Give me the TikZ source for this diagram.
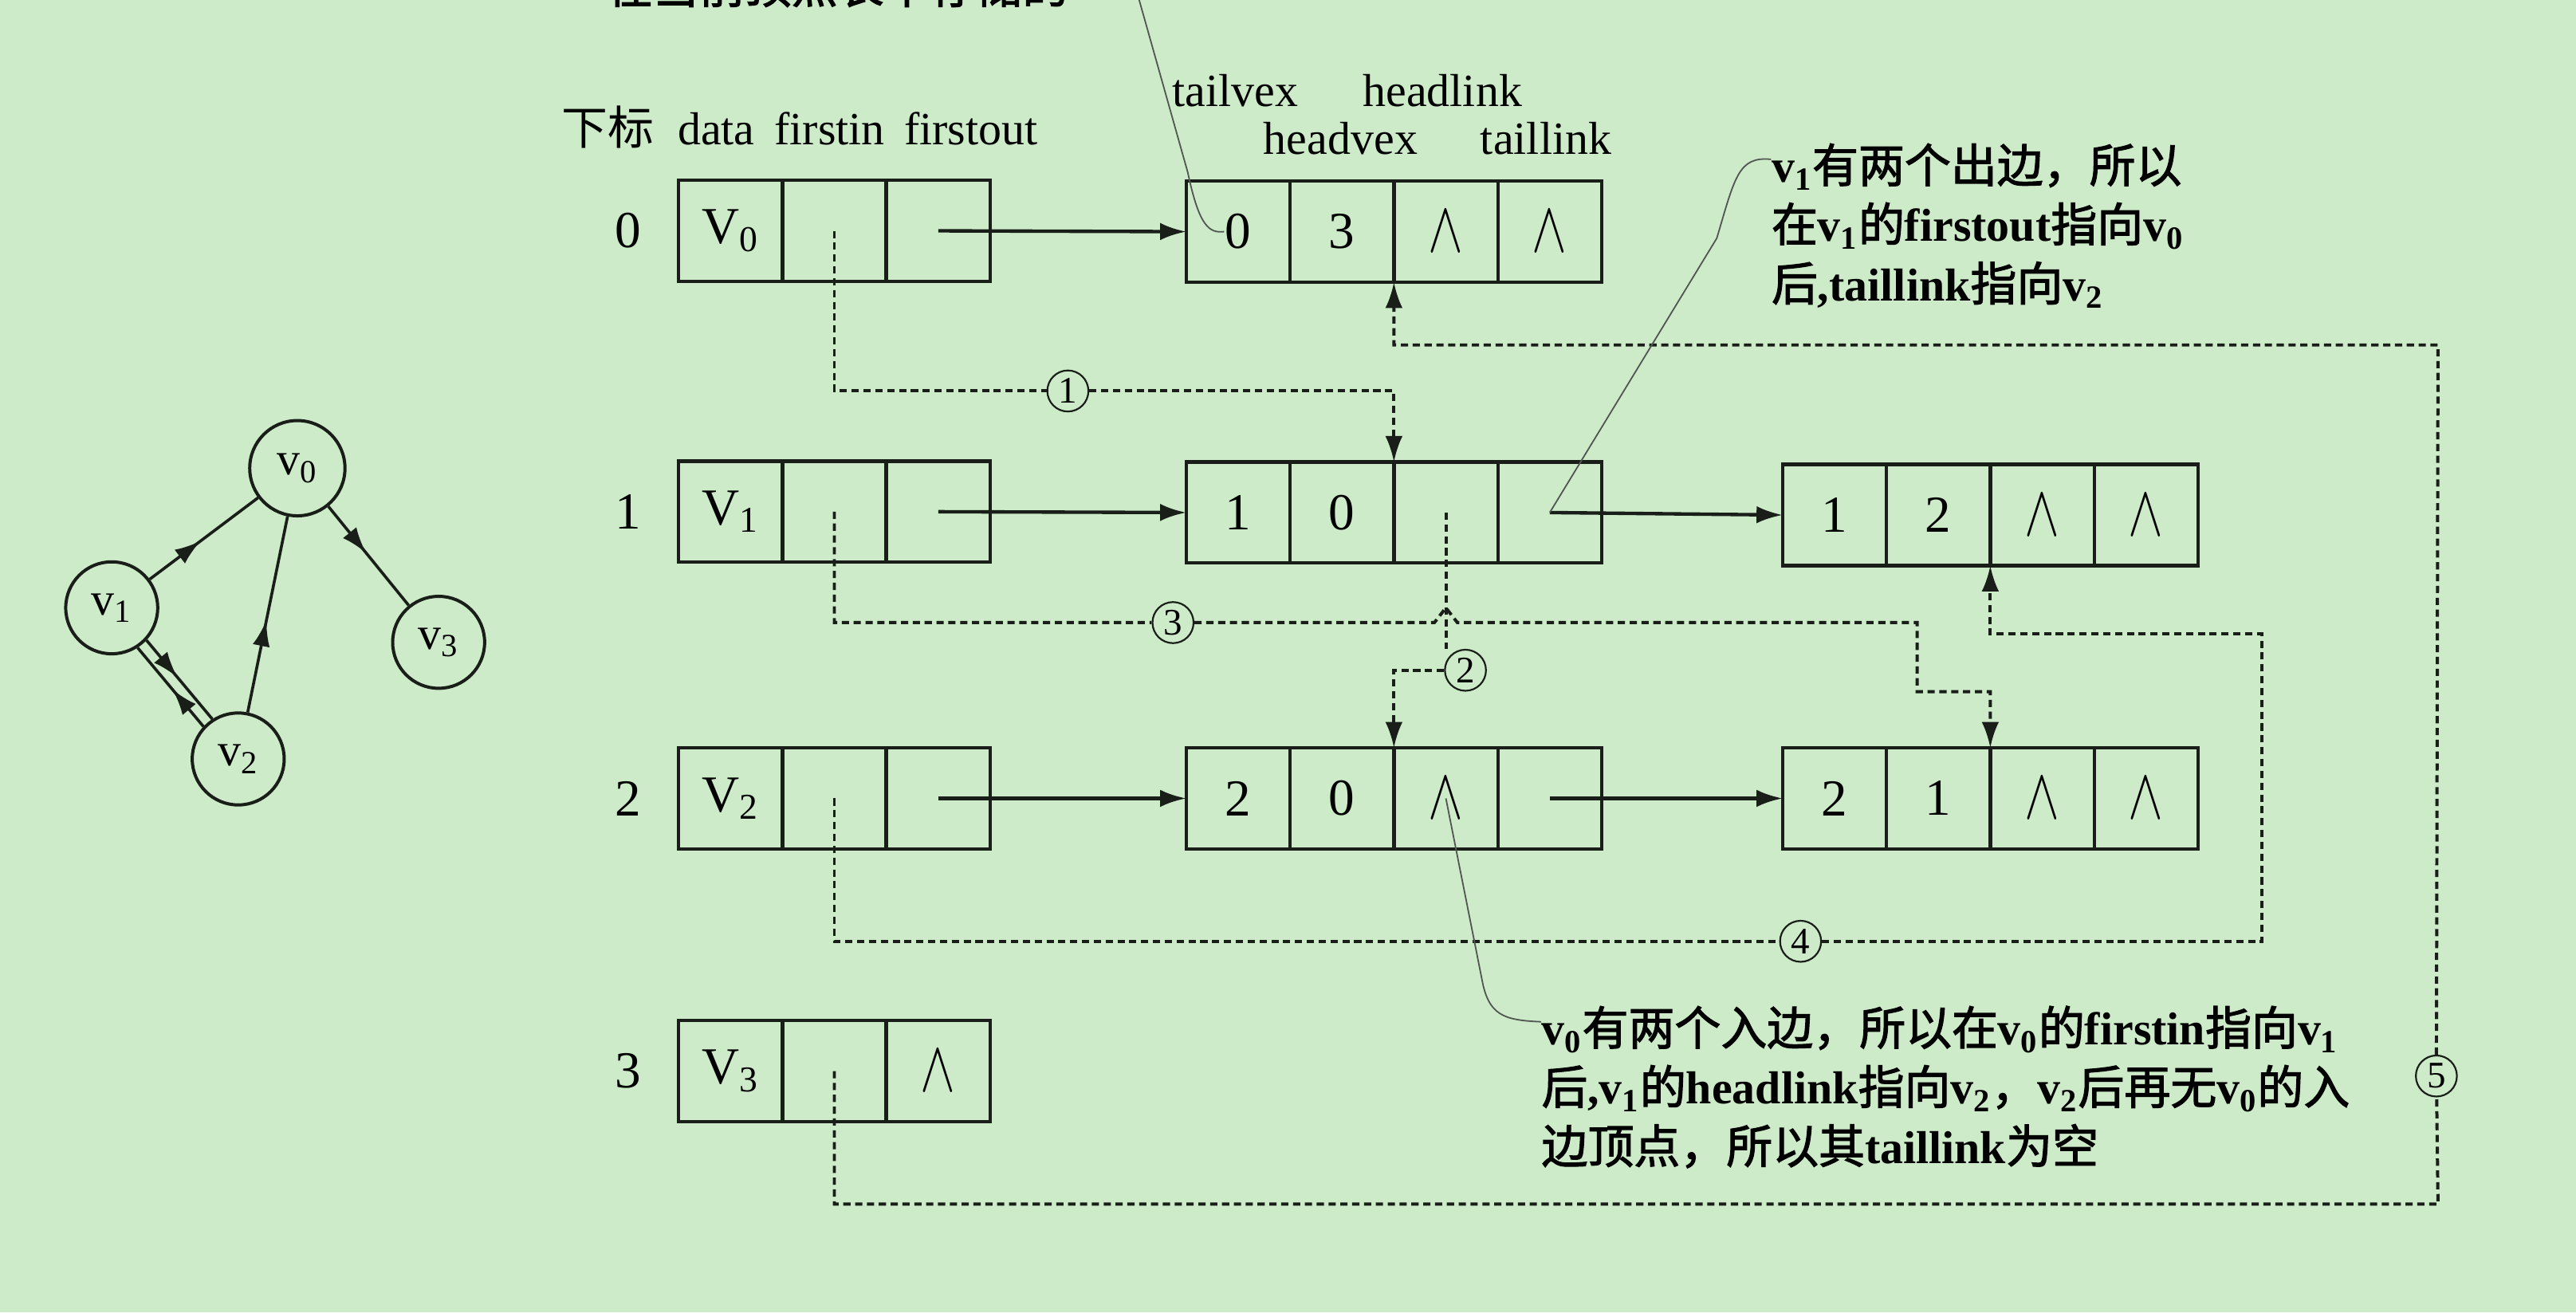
\documentclass[tikz,border=0pt]{standalone}
\usepackage{fontspec}
\usepackage{graphicx}
\setmainfont{Liberation Serif}
\newfontfamily\cjk{Noto Sans CJK SC}[AutoFakeBold=2]
\usetikzlibrary{positioning,arrows.meta,decorations.markings,calc}
\definecolor{bggreen}{RGB}{205,235,200}
\definecolor{ink}{RGB}{25,30,25}
\def\nullp{\scalebox{1.05}[1.45]{$\wedge$}}
\def\vsub#1#2{#1\textsubscript{#2}}
\def\vertexrow#1#2#3#4#5{%
  \node[cell,anchor=west] (#1d) at (#2,#3) {#4};
  \node[cell,right=0pt of #1d] (#1i) {};
  \node[cell,right=0pt of #1i] (#1o) {#5}}
\def\edgerow#1#2#3#4#5#6#7{%
  \node[cell,anchor=west] (#1a) at (#2,#3) {#4};
  \node[cell,right=0pt of #1a] (#1b) {#5};
  \node[cell,right=0pt of #1b] (#1c) {#6};
  \node[cell,right=0pt of #1c] (#1d) {#7}}
\tikzstyle{cell}=[draw=ink,line width=1.2pt,minimum width=1.265cm,minimum height=1.23cm,inner sep=0pt,outer sep=0pt,font=\fontsize{18}{18}\selectfont]
\tikzstyle{idx}=[inner sep=0pt,font=\fontsize{18}{18}\selectfont]
\tikzstyle{head}=[inner sep=0pt,anchor=base,font=\fontsize{16}{16}\selectfont]
\tikzstyle{vtx}=[circle,draw=ink,line width=1.1pt,minimum size=1.12cm,inner sep=0pt,font=\fontsize{16}{16}\selectfont]
\tikzstyle{midarrow}=[postaction={decorate},decoration={markings,mark=at position 0.47 with {\arrow{Latex[length=9pt,width=6pt]}}}]
\tikzstyle{gline}=[draw=ink,line width=1pt,midarrow]
\tikzstyle{link}=[draw=ink,line width=1.2pt,-{Latex[length=9pt,width=6pt]}]
\tikzstyle{ptr}=[draw=ink,line width=1.1pt,dash pattern=on 2.5pt off 1.6pt,-{Latex[length=9pt,width=6pt]}]
\tikzstyle{num}=[circle,draw=ink,line width=0.6pt,fill=bggreen,minimum size=0.5cm,inner sep=0pt,font=\fontsize{13}{13}\selectfont]
\tikzstyle{note}=[align=left,anchor=north west,inner sep=0pt,font=\fontsize{16}{20.5}\selectfont\bfseries]
\tikzstyle{lead}=[draw=ink!75,line width=0.5pt]

\begin{document}
\begin{tikzpicture}[x=0.02cm,y=-0.02cm]
  \useasboundingbox (0,0) rectangle (1568,799);
  \clip (0,0) rectangle (1568,799);
  \fill[bggreen] (0,0) rectangle (1568,799);

  % the graph
  \node[vtx,minimum size=1.16cm] (g0) at (181,285) {\vsub{v}{0}};
  \node[vtx] (g1) at (68,370) {\vsub{v}{1}};
  \node[vtx] (g2) at (145,462) {\vsub{v}{2}};
  \node[vtx] (g3) at (267,391) {\vsub{v}{3}};
  \draw[gline] (g1) -- (g0);
  \draw[gline] (g2) -- (g0);
  \draw[gline] (g0) -- (g3);
  \draw[gline] (g1.-43) -- (g2.123);
  \draw[gline] (g2.137) -- (g1.-57);

  % vertex table
  \vertexrow{v0}{413}{140.5}{\vsub{V}{0}}{};
  \vertexrow{v1}{413}{311.5}{\vsub{V}{1}}{};
  \vertexrow{v2}{413}{486}{\vsub{V}{2}}{};
  \vertexrow{v3}{413}{652}{\vsub{V}{3}}{\nullp};
  \node[idx,left=0.45cm of v0d] (i0) {0};
  \node[idx,left=0.45cm of v1d] (i1) {1};
  \node[idx,left=0.45cm of v2d] (i2) {2};
  \node[idx,left=0.45cm of v3d] (i3) {3};
  \node[head] (hsub) at (370,88) {{\cjk 下标}};
  \node[head] (hdata) at (436,88) {data};
  \node[head] (hin) at (505,88) {firstin};
  \node[head] (hout) at (591,88) {firstout};

  % edge nodes
  \edgerow{e0}{722}{141}{0}{3}{\nullp}{\nullp};
  \edgerow{e1}{722}{312}{1}{0}{}{};
  \edgerow{f1}{1085}{313.5}{1}{2}{\nullp}{\nullp};
  \edgerow{e2}{722}{486}{2}{0}{\nullp}{};
  \edgerow{f2}{1085}{486}{2}{1}{\nullp}{\nullp};
  \node[head] (htv) at (752,65) {tailvex};
  \node[head] (hhl) at (878,65) {headlink};
  \node[head] (hhv) at (816,94) {headvex};
  \node[head] (htl) at (941,94) {taillink};

  \draw[link] (v0o.center) -- (e0a.west);
  \draw[link] (v1o.center) -- (e1a.west);
  \draw[link] (v2o.center) -- (e2a.west);
  \draw[link] (e1d.center) -- (f1a.west);
  \draw[link] (e2d.center) -- (f2a.west);

  % dotted pointers
  \node[num] (c1) at (650,238) {1};
  \node[num] (c2) at (892,408) {2};
  \node[num] (c3) at (714,379) {3};
  \node[num] (c4) at (1096,573) {4};
  \node[num] (c5) at (1483,655) {5};
  \coordinate (t3) at (1167,421);
  \coordinate (r4) at (1377,386);
  \coordinate (r5a) at (1484,733);
  \coordinate (r5b) at (1484,210);
  \draw[ptr] (v0i.center) |- (c1) -| (e1c.north west);
  \draw[ptr,-] (e1c.center) -- (e1c.center |- c2.north);
  \draw[ptr] (c2) -| (e2c.north west);
  \draw[ptr] (v1i.center) |- (c3) -- ($(e1c.center |- c3)+(-7,0)$) -- ++(7,-9) -- ++(7,9) -| (t3) -| (f2c.north west);
  \draw[ptr] (v2i.center) |- (c4) -| (r4) -| (f1c.south west);
  \draw[ptr] (v3i.center) |- (r5a) -- (c5) -- (r5b) -| (e0c.south west);

  % notes
  \node[note,anchor=base west] (ann0) at (369,2) {{\cjk 在当前顶点表中存储的}};
  \node[note] (ann1) at (1078,87) {\vsub{v}{1}{\cjk 有两个出边，所以}\\
    {\cjk 在}\vsub{v}{1}{\cjk 的}firstout{\cjk 指向}\vsub{v}{0}\\
    {\cjk 后},taillink{\cjk 指向}\vsub{v}{2}};
  \node[note] (ann2) at (938,612) {\vsub{v}{0}{\cjk 有两个入边，所以在}\vsub{v}{0}{\cjk 的}firstin{\cjk 指向}\vsub{v}{1}\\
    {\cjk 后},\vsub{v}{1}{\cjk 的}headlink{\cjk 指向}\vsub{v}{2}{\cjk ，}\vsub{v}{2}{\cjk 后再无}\vsub{v}{0}{\cjk 的入}\\
    {\cjk 边顶点，所以其}taillink{\cjk 为空}};
  \coordinate (p0) at (692,-5);
  \draw[lead] (p0) -- (723,105) .. controls (730,138) and (736,142) .. ([xshift=-0.17cm]e0a.center);
  \draw[lead] (e1d.center) -- (1045,145) .. controls (1056,108) and (1058,95) .. ([yshift=-0.2cm]ann1.north west);
  \draw[lead] (e2c.center) -- (902,596) .. controls (906,618) and (915,621) .. ([yshift=-0.2cm]ann2.north west);
\end{tikzpicture}
\end{document}
